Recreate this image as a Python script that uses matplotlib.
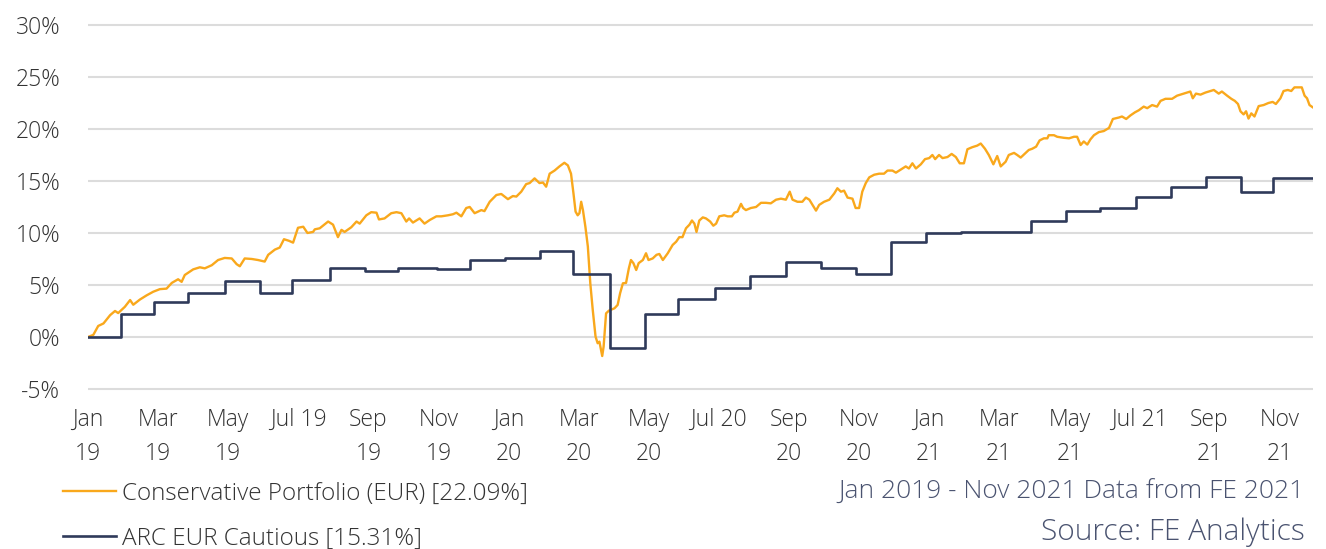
import matplotlib
matplotlib.use("Agg")
import matplotlib.pyplot as plt

plt.rcParams['font.family'] = ['Open Sans', 'DejaVu Sans']
plt.rcParams['font.weight'] = 'light'

# x values are months since 1 Jan 2019
cons_months = [0.0, 0.15, 0.29, 0.44, 0.63, 0.77, 0.86, 1.05, 1.20, 1.29, 1.48, 1.67, 1.86, 2.05, 2.24,
               2.39, 2.57, 2.67, 2.76, 3.00, 3.19, 3.33, 3.53, 3.71, 3.90, 4.10, 4.24, 4.33, 4.47, 4.67,
               4.85, 5.04, 5.14, 5.33, 5.47, 5.59, 5.73, 5.85, 5.99, 6.14, 6.26, 6.42, 6.47, 6.61, 6.85,
               6.99, 7.13, 7.23, 7.32, 7.51, 7.66, 7.75, 7.94, 8.08, 8.23, 8.30, 8.46, 8.65, 8.80, 8.94,
               9.08, 9.16, 9.27, 9.46, 9.60, 9.75, 9.94, 10.08, 10.27, 10.41, 10.51, 10.65, 10.79, 10.89,
               11.03, 11.22, 11.31, 11.46, 11.65, 11.79, 11.98, 12.12, 12.22, 12.36, 12.50, 12.60, 12.74,
               12.88, 12.98, 13.07, 13.17, 13.31, 13.45, 13.59, 13.69, 13.78, 13.85, 13.91, 13.97, 14.02,
               14.07, 14.12, 14.19, 14.26, 14.33, 14.40, 14.48, 14.54, 14.59, 14.67, 14.71, 14.78, 14.86,
               14.95, 15.02, 15.11, 15.18, 15.26, 15.35, 15.43, 15.49, 15.56, 15.64, 15.71, 15.83, 15.92,
               15.99, 16.11, 16.22, 16.30, 16.40, 16.54, 16.68, 16.78, 16.87, 16.96, 17.06, 17.16, 17.23,
               17.30, 17.36, 17.44, 17.54, 17.63, 17.75, 17.84, 17.92, 18.01, 18.15, 18.25, 18.37, 18.44,
               18.53, 18.63, 18.69, 18.77, 18.91, 19.06, 19.20, 19.34, 19.48, 19.63, 19.77, 19.91, 20.02,
               20.10, 20.24, 20.38, 20.48, 20.58, 20.67, 20.77, 20.86, 21.00, 21.15, 21.29, 21.38, 21.48,
               21.57, 21.67, 21.81, 21.90, 22.00, 22.09, 22.19, 22.29, 22.43, 22.57, 22.71, 22.81, 22.95,
               23.05, 23.19, 23.33, 23.42, 23.52, 23.62, 23.76, 23.88, 24.00, 24.09, 24.17, 24.28, 24.38,
               24.52, 24.64, 24.76, 24.87, 24.99, 25.09, 25.23, 25.37, 25.47, 25.59, 25.70, 25.83, 25.94,
               26.04, 26.18, 26.27, 26.42, 26.51, 26.61, 26.75, 26.84, 26.94, 27.05, 27.15, 27.27, 27.37,
               27.41, 27.56, 27.65, 27.84, 27.99, 28.13, 28.22, 28.32, 28.41, 28.51, 28.60, 28.70, 28.84,
               28.98, 29.13, 29.24, 29.41, 29.50, 29.62, 29.74, 29.87, 29.98, 30.12, 30.22, 30.36, 30.50,
               30.60, 30.74, 30.93, 31.07, 31.21, 31.36, 31.45, 31.52, 31.61, 31.74, 31.88, 32.02, 32.12,
               32.26, 32.35, 32.50, 32.62, 32.72, 32.81, 32.88, 32.97, 33.04, 33.11, 33.19, 33.28, 33.40,
               33.54, 33.68, 33.80, 33.89, 34.02, 34.11, 34.23, 34.33, 34.42, 34.56, 34.63, 34.71, 34.78,
               34.85, 34.94]
cons_values = [0.0, 0.2, 1.06, 1.3, 2.1, 2.5, 2.3, 2.9, 3.55, 3.1, 3.6, 4.0, 4.35, 4.6, 4.65,
               5.2, 5.55, 5.3, 5.96, 6.5, 6.7, 6.6, 6.9, 7.4, 7.6, 7.55, 7.0, 6.8, 7.55, 7.5,
               7.4, 7.25, 7.9, 8.4, 8.6, 9.4, 9.25, 9.07, 10.5, 10.6, 10.0, 10.1, 10.35, 10.45, 11.1,
               10.8, 9.6, 10.3, 10.1, 10.55, 11.1, 10.9, 11.7, 12.0, 11.95, 11.3, 11.4, 11.9, 12.0, 11.9,
               11.1, 11.4, 11.0, 11.4, 10.9, 11.25, 11.6, 11.6, 11.7, 11.8, 11.95, 11.6, 12.4, 12.5,
               11.9, 12.2, 12.1, 13.0, 13.65, 13.75, 13.25, 13.55, 13.5, 13.97, 14.7, 14.8, 15.25,
               14.8, 14.85, 14.45, 15.7, 16.0, 16.4, 16.75, 16.5, 15.7, 13.8, 12.05, 11.7, 11.9,
               13.0, 12.2, 10.6, 8.7, 5.16, 2.6, 0.03, -0.6, -0.45, -1.83, -0.93, 2.27, 2.53,
               2.66, 2.76, 3.08, 4.2, 5.16, 5.2, 6.6, 7.4, 7.1, 6.44, 7.1, 7.4, 8.05,
               7.4, 7.55, 7.9, 7.98, 7.4, 8.05, 8.85, 9.16, 9.6, 9.6, 10.45, 10.8, 11.2,
               10.9, 10.1, 11.2, 11.5, 11.4, 11.1, 10.7, 10.9, 11.6, 11.7, 11.6, 11.6, 11.95,
               12.05, 12.8, 12.4, 12.2, 12.4, 12.5, 12.9, 12.9, 12.85, 13.2, 13.3, 13.2, 13.97,
               13.2, 13.0, 13.0, 13.4, 13.2, 12.7, 12.15, 12.7, 13.0, 13.2, 13.8, 14.3, 13.97,
               14.07, 13.4, 13.3, 12.4, 12.4, 13.97, 14.8, 15.35, 15.6, 15.7, 15.7, 16.0, 16.0,
               15.8, 16.1, 16.4, 16.2, 16.7, 16.2, 16.6, 17.1, 17.2, 17.5, 17.1, 17.5, 17.2,
               17.3, 17.6, 17.3, 16.7, 16.7, 18.05, 18.25, 18.4, 18.6, 18.1, 17.5, 16.6, 17.4,
               16.4, 16.85, 17.5, 17.7, 17.5, 17.25, 17.7, 17.98, 18.1, 18.3, 18.9, 19.1, 19.1,
               19.4, 19.4, 19.25, 19.15, 19.1, 19.25, 19.25, 18.46, 18.8, 18.5, 19.0, 19.4, 19.7,
               19.8, 20.1, 20.96, 21.1, 21.2, 20.96, 21.3, 21.6, 21.8, 22.15, 22.0, 22.3, 22.15,
               22.7, 22.9, 22.9, 23.2, 23.35, 23.5, 23.6, 22.95, 23.4, 23.3, 23.5, 23.65, 23.75,
               23.4, 23.6, 23.2, 22.9, 22.7, 22.4, 21.7, 21.4, 21.7, 21.0, 21.5, 21.2, 22.2,
               22.3, 22.5, 22.6, 22.4, 22.95, 23.65, 23.75, 23.65, 24.0, 24.0, 24.0, 23.2, 22.95,
               22.3, 22.09]

# ARC index: month-end step values
arc_months = [0, 0.94, 1.88, 2.85, 3.90, 4.90, 5.81, 6.90, 7.90, 8.83, 9.95, 10.90, 11.90, 12.90,
              13.85, 14.90, 15.90, 16.84, 17.90, 18.90, 19.90, 20.90, 21.90, 22.90, 23.90, 24.90,
              25.85, 26.90, 27.90, 28.87, 29.90, 30.90, 31.90, 32.90, 33.80, 34.94]
arc_values = [0, 2.2, 3.4, 4.2, 5.4, 4.2, 5.5, 6.6, 6.3, 6.6, 6.5, 7.4, 7.6, 8.3,
              6.1, -1.1, 2.2, 3.65, 4.75, 5.85, 7.2, 6.6, 6.05, 9.1, 10.0, 10.05,
              10.1, 11.15, 12.1, 12.4, 13.5, 14.4, 15.4, 13.9, 15.31, 15.31]

tick_months = list(range(0, 35, 2))
tick_labels = ["Jan\n19", "Mar\n19", "May\n19", "Jul 19", "Sep\n19", "Nov\n19",
               "Jan\n20", "Mar\n20", "May\n20", "Jul 20", "Sep\n20", "Nov\n20",
               "Jan\n21", "Mar\n21", "May\n21", "Jul 21", "Sep\n21", "Nov\n21"]
y_ticks = [-5, 0, 5, 10, 15, 20, 25, 30]

cons_label = "Conservative Portfolio (EUR) [22.09%]"
arc_label = "ARC EUR Cautious [15.31%]"
orange = "#F9A81C"
navy = "#2F3A5A"
text_col = "#333333"
note_col = "#4A5370"

fig = plt.figure(figsize=(13.26, 5.49), dpi=100)
ax = fig.add_axes([0.0664, 0.282, 0.9238, 0.682])

ax.plot(cons_months, cons_values, color=orange, lw=1.7, label=cons_label, zorder=3)
ax.plot(arc_months, arc_values, color=navy, lw=1.9, drawstyle="steps-post", label=arc_label, zorder=4)

ax.set_xlim(0, 34.95)
ax.set_ylim(-5.5, 30.5)
ax.set_yticks(y_ticks)
ax.set_yticklabels([f"{v}%" for v in y_ticks])
ax.set_xticks(tick_months)
ax.set_xticklabels(tick_labels, linespacing=1.55)
ax.tick_params(axis="both", length=0, labelsize=16.5, labelcolor=text_col)
ax.tick_params(axis="y", pad=20)
ax.tick_params(axis="x", pad=10)
ax.grid(axis="y", color="#dcdcdc", lw=1.5)
ax.set_axisbelow(True)
for s in ax.spines.values():
    s.set_visible(False)

fig.legend(loc="upper left", bbox_to_anchor=(0.040, 0.140), frameon=False, fontsize=17.5,
           handlelength=2.2, handletextpad=0.25, labelspacing=0.85, labelcolor=text_col,
           bbox_transform=fig.transFigure, borderaxespad=0)

fig.text(0.984, 0.104, "Jan 2019 - Nov 2021 Data from FE 2021", ha="right", va="center",
         fontsize=19, color=note_col)
fig.text(0.984, 0.031, "Source: FE Analytics", ha="right", va="center", fontsize=21.5, color=note_col)

fig.savefig("out.png", dpi=100)
